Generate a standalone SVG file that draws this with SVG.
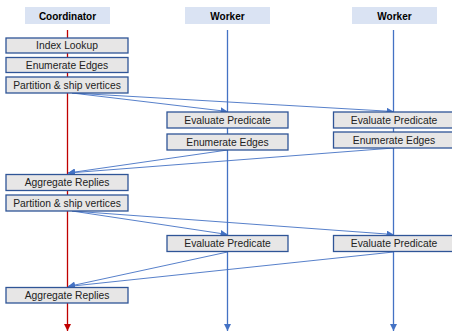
<svg xmlns="http://www.w3.org/2000/svg" width="452" height="333" viewBox="0 0 452 333">
  <style>
    .hdr rect { fill: #dae3f3; }
    .hdr text { font-family: "Liberation Sans", Arial, sans-serif; font-size: 10px; font-weight: bold; fill: #000; text-anchor: middle; }
    .step rect { fill: #e7e6e6; stroke: #2f5597; stroke-width: 1.3; }
    .step text { font-family: "Liberation Sans", Arial, sans-serif; font-size: 10.3px; fill: #222; text-anchor: middle; }
    .life { stroke-width: 1.3; fill: none; }
    .msg { stroke: #4472c4; stroke-width: 0.9; fill: none; marker-end: url(#ah); }
  </style>
  <defs>
    <marker id="ah" viewBox="0 0 10 10" refX="10" refY="5" markerWidth="7" markerHeight="7" markerUnits="userSpaceOnUse" orient="auto">
      <path d="M0,0 L10,5 L0,10 z" fill="#4472c4"/>
    </marker>
    <marker id="endBlue" viewBox="0 0 10 10" refX="10" refY="5" markerWidth="7" markerHeight="7" markerUnits="userSpaceOnUse" orient="auto">
      <path d="M0,0 L10,5 L0,10 z" fill="#4472c4"/>
    </marker>
    <marker id="endRed" viewBox="0 0 10 10" refX="10" refY="5" markerWidth="7" markerHeight="7" markerUnits="userSpaceOnUse" orient="auto">
      <path d="M0,0 L10,5 L0,10 z" fill="#c00000"/>
    </marker>
  </defs>

  <!-- lifelines -->
  <g id="lifelines">
    <line class="life" x1="67.5" y1="30" x2="67.5" y2="331" stroke="#c00000" marker-end="url(#endRed)"/>
    <line class="life" x1="227.5" y1="30" x2="227.5" y2="331" stroke="#4472c4" marker-end="url(#endBlue)"/>
    <line class="life" x1="393.5" y1="30" x2="393.5" y2="331" stroke="#4472c4" marker-end="url(#endBlue)"/>
  </g>

  <!-- participant headers -->
  <g id="coordinator" class="hdr">
    <rect x="25" y="7" width="85" height="17"/>
    <text x="67.5" y="19.5">Coordinator</text>
  </g>
  <g id="worker1" class="hdr">
    <rect x="185" y="7" width="85" height="17"/>
    <text x="227.5" y="19.5">Worker</text>
  </g>
  <g id="worker2" class="hdr">
    <rect x="352" y="7" width="85" height="17"/>
    <text x="394.5" y="19.5">Worker</text>
  </g>

  <!-- messages -->
  <g id="connectors">
    <line class="msg" x1="72" y1="93" x2="227.5" y2="111.5"/>
    <line class="msg" x1="72" y1="93" x2="393.5" y2="111.5"/>
    <line class="msg" x1="227.5" y1="150" x2="68" y2="173"/>
    <line class="msg" x1="393.5" y1="148" x2="68" y2="173"/>
    <line class="msg" x1="72" y1="211" x2="227.5" y2="234.5"/>
    <line class="msg" x1="72" y1="211" x2="393.5" y2="234.5"/>
    <line class="msg" x1="227.5" y1="252" x2="68" y2="286.5"/>
    <line class="msg" x1="393.5" y1="252" x2="68" y2="286.5"/>
  </g>

  <!-- coordinator steps -->
  <g id="c-index-lookup" class="step">
    <rect x="6" y="38" width="122" height="15"/>
    <text x="67" y="49.3">Index Lookup</text>
  </g>
  <g id="c-enumerate-edges" class="step">
    <rect x="6" y="57.5" width="122" height="15"/>
    <text x="67" y="68.8">Enumerate Edges</text>
  </g>
  <g id="c-partition-1" class="step">
    <rect x="6" y="77" width="122" height="16"/>
    <text x="67" y="88.8">Partition &amp; ship vertices</text>
  </g>
  <g id="c-aggregate-1" class="step">
    <rect x="6" y="174.5" width="122" height="16"/>
    <text x="67" y="186.3">Aggregate Replies</text>
  </g>
  <g id="c-partition-2" class="step">
    <rect x="6" y="195" width="122" height="16"/>
    <text x="67" y="206.8">Partition &amp; ship vertices</text>
  </g>
  <g id="c-aggregate-2" class="step">
    <rect x="6" y="287.5" width="122" height="15.5"/>
    <text x="67" y="299">Aggregate Replies</text>
  </g>

  <!-- worker 1 steps -->
  <g id="w1-evaluate-1" class="step">
    <rect x="167" y="112" width="121" height="16"/>
    <text x="227.5" y="123.8">Evaluate Predicate</text>
  </g>
  <g id="w1-enumerate" class="step">
    <rect x="167" y="134" width="121" height="16"/>
    <text x="227.5" y="145.8">Enumerate Edges</text>
  </g>
  <g id="w1-evaluate-2" class="step">
    <rect x="167" y="235.5" width="121" height="16"/>
    <text x="227.5" y="247.3">Evaluate Predicate</text>
  </g>

  <!-- worker 2 steps -->
  <g id="w2-evaluate-1" class="step">
    <rect x="333.5" y="112" width="120" height="16"/>
    <text x="394" y="123.8">Evaluate Predicate</text>
  </g>
  <g id="w2-enumerate" class="step">
    <rect x="333.5" y="132" width="120" height="16"/>
    <text x="394" y="143.8">Enumerate Edges</text>
  </g>
  <g id="w2-evaluate-2" class="step">
    <rect x="333.5" y="235.5" width="120" height="16"/>
    <text x="394" y="247.3">Evaluate Predicate</text>
  </g>
</svg>
